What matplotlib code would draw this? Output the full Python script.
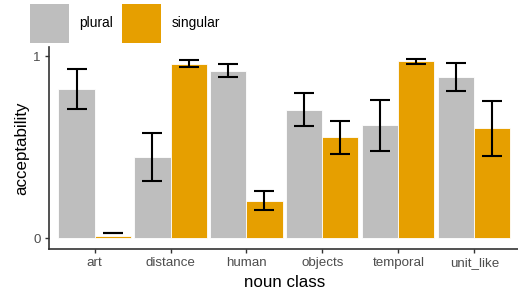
import numpy as np
import matplotlib
matplotlib.use("Agg")
import matplotlib.pyplot as plt
from matplotlib.patches import Patch

plt.rcParams['font.family'] = ['Liberation Sans', 'DejaVu Sans']

# data
classes = ["art", "distance", "human", "objects", "temporal", "unit_like"]
plural = [0.819, 0.444, 0.920, 0.705, 0.619, 0.883]
plural_lo = [0.709, 0.313, 0.885, 0.617, 0.480, 0.809]
plural_hi = [0.929, 0.575, 0.955, 0.796, 0.761, 0.962]
singular = [0.010, 0.956, 0.205, 0.553, 0.971, 0.603]
singular_lo = [0.027, 0.938, 0.156, 0.464, 0.956, 0.450]
singular_hi = [0.029, 0.978, 0.258, 0.645, 0.987, 0.756]

grey = "#BEBEBE"
orange = "#E69F00"

fig = plt.figure(figsize=(5.18, 2.93), dpi=100)
ax = fig.add_axes([0.0946, 0.150, 0.909, 0.6894])

x = np.arange(len(classes))
w = 0.475

ax.bar(x - w/2, plural, width=w, color=grey, edgecolor="white", linewidth=0.6)
ax.bar(x + w/2, singular, width=w, color=orange, edgecolor="white", linewidth=0.6)

for xs, lo, hi in [(x - w/2, plural_lo, plural_hi), (x + w/2, singular_lo, singular_hi)]:
    lo = np.array(lo)
    hi = np.array(hi)
    mid = (lo + hi) / 2
    ax.errorbar(xs, mid, yerr=[mid - lo, hi - mid], fmt="none", ecolor="black",
                elinewidth=1.5, capsize=7.2, capthick=1.5, zorder=3)

ax.set_xlim(-0.6, 5.6)
ax.set_ylim(-0.06, 1.05)
ax.set_xticks(x)
ax.set_xticklabels(classes)
ax.set_yticks([0, 1])
ax.set_yticklabels(["0", "1"])

for s in ["top", "right"]:
    ax.spines[s].set_visible(False)
for s in ["left", "bottom"]:
    ax.spines[s].set_color("#333333")
    ax.spines[s].set_linewidth(1.2)

ax.tick_params(axis="both", colors="#333333", labelcolor="#4D4D4D",
               labelsize=9.6, length=3, width=1.0, pad=3)

ax.set_xlabel("noun class", fontsize=12.2, labelpad=4)
ax.set_ylabel("acceptability", fontsize=12.2, labelpad=3)

handles = [Patch(facecolor=grey, edgecolor="none"), Patch(facecolor=orange, edgecolor="none")]
fig.legend(handles, ["plural", "singular"], loc="upper left",
           bbox_to_anchor=(0.058, 0.986), ncol=2, frameon=False,
           fontsize=9.9, handlelength=2.83, handleheight=3.98,
           handletextpad=0.73, columnspacing=0.7, borderpad=0, borderaxespad=0)

fig.savefig("out.png", dpi=100)
